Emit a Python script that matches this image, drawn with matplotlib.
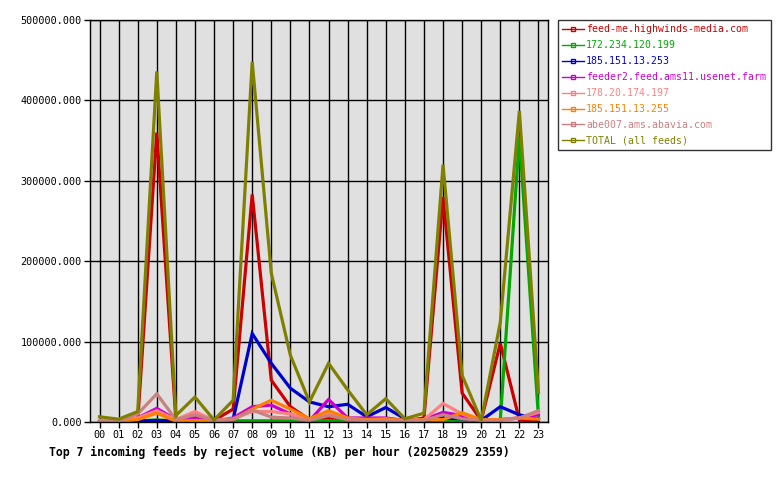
import matplotlib.pyplot as plt
import numpy as np
from matplotlib.lines import Line2D

hours = ['%02d' % h for h in range(24)]

feed_names = [
    'feed-me.highwinds-media.com',
    '172.234.120.199',
    '185.151.13.253',
    'feeder2.feed.ams11.usenet.farm',
    '178.20.174.197',
    '185.151.13.255',
    'abe007.ams.abavia.com',
    'TOTAL (all feeds)',
]
colors = ['#cc0000', '#00aa00', '#0000cc', '#cc00cc', '#ff8080', '#ff8000', '#c88080', '#808000']

# reject volume (KB) per hour
highwinds = [500, 500, 1000, 360000, 3000, 2000, 2000, 16000, 283000, 52000, 19000, 3000,
             5000, 2000, 1000, 1000, 1000, 5000, 280000, 36000, 2000, 98000, 2500, 1000]
ip_172 = [500, 500, 1500, 2500, 1500, 1500, 1500, 1500, 1500, 1500, 1500, 1500,
          1500, 1500, 1500, 1500, 1500, 1500, 1500, 1500, 1500, 2000, 355000, 6000]
ip_253 = [500, 500, 1000, 2000, 1000, 1000, 1000, 3000, 110000, 73000, 42000, 25000,
          19000, 22000, 6500, 18000, 4000, 2000, 5000, 4000, 2000, 19000, 9000, 3000]
feeder2 = [1000, 1000, 5000, 17000, 3000, 5000, 1000, 5000, 19000, 21000, 10000, 1500,
           28000, 5000, 5000, 5000, 2000, 3000, 12000, 8000, 2000, 3000, 5000, 9000]
ip_197 = [2000, 1500, 5000, 14000, 3000, 13000, 2000, 4000, 13000, 13000, 10000, 3000,
          11000, 3000, 2000, 3000, 2000, 3000, 23000, 10000, 2000, 3000, 5000, 12000]
ip_255 = [1000, 1000, 3000, 11000, 1000, 2000, 1000, 3000, 16000, 27000, 16000, 4000,
          14000, 5000, 3000, 4000, 2000, 3000, 3000, 11500, 3000, 3000, 5000, 3500]
abe007 = [1000, 1000, 10000, 35000, 3000, 9000, 2000, 3000, 15000, 6000, 5000, 2000,
          8000, 3000, 2000, 2000, 2000, 2000, 9000, 4000, 2000, 2000, 5000, 14000]
total = [6500, 3500, 13000, 436000, 8000, 31000, 2500, 27000, 448000, 185000, 83000, 25000,
         73000, 40000, 9000, 29000, 4000, 11000, 320000, 58000, 2000, 124000, 387000, 37000]

series = [highwinds, ip_172, ip_253, feeder2, ip_197, ip_255, abe007, total]

plt.rcParams['font.family'] = 'DejaVu Sans Mono'

fig = plt.figure(figsize=(7.8, 4.8), dpi=100)
ax = fig.add_axes([90 / 780, 58 / 480, 458 / 780, 402 / 480])
ax.set_facecolor('#e0e0e0')

x = np.arange(24)
for name, vals, c in zip(feed_names, series, colors):
    ax.plot(x, vals, color=c, linewidth=2.3, label=name, solid_joinstyle='miter')

ax.set_xlim(-0.5, 23.5)
ax.set_ylim(0, 500000)
ax.set_xticks(x)
ax.set_xticklabels(hours)
yt = np.arange(0, 500001, 100000)
ax.set_yticks(yt)
ax.set_yticklabels(['%.3f' % v for v in yt])
ax.tick_params(labelsize=7.3, length=4, width=1, color='black', pad=2)
ax.grid(True, color='black', linewidth=1)
ax.set_axisbelow(True)
for s in ax.spines.values():
    s.set_linewidth(1)

fig.text(49 / 780, 1 - 452 / 480, 'Top 7 incoming feeds by reject volume (KB) per hour (20250829 2359)',
         fontsize=8.3, fontweight='bold', va='center', ha='left')

# legend handles: thin line with a small open square in the middle
handles = []
for c in colors:
    h = Line2D([0, 0.5, 1], [0, 0, 0], color=c, linewidth=1, marker='s', markersize=2.5,
               markerfacecolor='none', markevery=[1])
    handles.append(h)
leg = fig.legend(handles, feed_names, loc='upper left', bbox_to_anchor=(558 / 780, 1 - 20 / 480),
                 frameon=True, fancybox=False, edgecolor='black', fontsize=7.1,
                 handlelength=2.2, handletextpad=0.2, labelspacing=0.6, borderpad=0.45,
                 borderaxespad=0, labelcolor=colors)
leg.get_frame().set_linewidth(1)

fig.savefig('out.png', dpi=100)
